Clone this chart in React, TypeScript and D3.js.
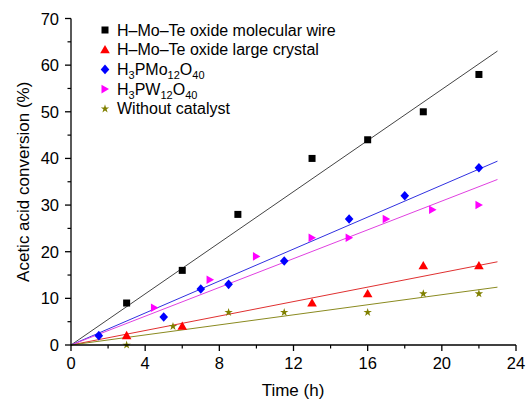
import React from "react";
import * as d3 from "d3";

const W = 527;
const H = 400;

const xTicks = [0, 4, 8, 12, 16, 20, 24];
const yTicks = [0, 10, 20, 30, 40, 50, 60, 70];

const wireX = [3, 6, 9, 13, 16, 19, 22];
const wireY = [9, 16, 28, 40, 44, 50, 58];
const crystalX = [3, 6, 13, 16, 19, 22];
const crystalY = [2, 4, 9, 11, 17, 17];
const pmoX = [1.5, 5, 7, 8.5, 11.5, 15, 18, 22];
const pmoY = [2, 6, 12, 13, 18, 27, 32, 38];
const pwX = [4.5, 7.5, 10, 13, 15, 17, 19.5, 22];
const pwY = [8, 14, 19, 23, 23, 27, 29, 30];
const noneX = [3, 5.5, 8.5, 11.5, 16, 19, 22];
const noneY = [0, 4, 7, 7, 7, 11, 11];

const fitEnd = 23;

type Shape = "square" | "triUp" | "diamond" | "triRight" | "star";

const series: { xs: number[]; ys: number[]; color: string; line: string; shape: Shape; label: React.ReactNode }[] = [
  { xs: wireX, ys: wireY, color: "#000000", line: "#444444", shape: "square", label: "H–Mo–Te oxide molecular wire" },
  { xs: crystalX, ys: crystalY, color: "#ff0000", line: "#e03030", shape: "triUp", label: "H–Mo–Te oxide large crystal" },
  {
    xs: pmoX, ys: pmoY, color: "#0000ff", line: "#3030e0", shape: "diamond",
    label: (
      <>
        H<tspan fontSize={11} dy={4}>3</tspan>
        <tspan dy={-4}>PMo</tspan>
        <tspan fontSize={11} dy={4}>12</tspan>
        <tspan dy={-4}>O</tspan>
        <tspan fontSize={11} dy={4}>40</tspan>
      </>
    ),
  },
  {
    xs: pwX, ys: pwY, color: "#ff00ff", line: "#e040e0", shape: "triRight",
    label: (
      <>
        H<tspan fontSize={11} dy={4}>3</tspan>
        <tspan dy={-4}>PW</tspan>
        <tspan fontSize={11} dy={4}>12</tspan>
        <tspan dy={-4}>O</tspan>
        <tspan fontSize={11} dy={4}>40</tspan>
      </>
    ),
  },
  { xs: noneX, ys: noneY, color: "#808000", line: "#8a8a20", shape: "star", label: "Without catalyst" },
];

function marker(shape: Shape, x: number, y: number, color: string, key: string | number) {
  switch (shape) {
    case "square":
      return <rect key={key} x={x - 3.5} y={y - 3.5} width={7} height={7} fill={color} />;
    case "triUp":
      return <path key={key} d={`M${x},${y - 4.8}L${x + 4.8},${y + 3.5}L${x - 4.8},${y + 3.5}Z`} fill={color} />;
    case "diamond":
      return <path key={key} d={`M${x},${y - 4.8}L${x + 4.3},${y}L${x},${y + 4.8}L${x - 4.3},${y}Z`} fill={color} />;
    case "triRight":
      return <path key={key} d={`M${x - 3.5},${y - 4.3}L${x + 4},${y}L${x - 3.5},${y + 4.3}Z`} fill={color} />;
    case "star":
      return (
        <path
          key={key}
          transform={`translate(${x},${y})`}
          d={d3.symbol(d3.symbolStar, 22)() || ""}
          fill={color}
        />
      );
  }
}

export default function App() {
  const x = d3.scaleLinear().domain([0, 24]).range([71, 516]);
  const y = d3.scaleLinear().domain([0, 70]).range([345, 18.5]);
  const font = "'Liberation Sans', Arial, Helvetica, sans-serif";
  const xMinor = d3.range(2, 24, 4);
  const yMinor = d3.range(5, 70, 10);
  const line = d3.line<[number, number]>().x((d) => x(d[0])).y((d) => y(d[1]));

  return (
    <svg width={W} height={H} style={{ position: "absolute", left: 0, top: 0, background: "#fff" }} fontFamily={font}>
      {series.map((s, i) => {
        const sxy = d3.sum(s.xs.map((v, j) => v * s.ys[j]));
        const sxx = d3.sum(s.xs.map((v) => v * v));
        const k = sxy / sxx;
        return (
          <path key={"fit" + i} d={line([[0, 0], [fitEnd, k * fitEnd]]) || ""} stroke={s.line} strokeWidth={1} fill="none" />
        );
      })}
      {series.map((s, i) => (
        <g key={"pts" + i}>{s.xs.map((v, j) => marker(s.shape, x(v), y(s.ys[j]), s.color, j))}</g>
      ))}
      <line x1={x(0)} x2={x(24)} y1={y(0)} y2={y(0)} stroke="#000" strokeWidth={1.3} />
      <line x1={x(0)} x2={x(0)} y1={y(0)} y2={y(70)} stroke="#000" strokeWidth={1.3} />
      {xTicks.map((t) => (
        <g key={"xt" + t}>
          <line x1={x(t)} x2={x(t)} y1={y(0)} y2={y(0) + 6} stroke="#000" strokeWidth={1.3} />
          <text x={x(t)} y={y(0) + 24} textAnchor="middle" fontSize={16.5}>
            {t}
          </text>
        </g>
      ))}
      {xMinor.map((t) => (
        <line key={"xm" + t} x1={x(t)} x2={x(t)} y1={y(0)} y2={y(0) + 3.5} stroke="#000" strokeWidth={1.2} />
      ))}
      {yTicks.map((t) => (
        <g key={"yt" + t}>
          <line x1={x(0) - 6} x2={x(0)} y1={y(t)} y2={y(t)} stroke="#000" strokeWidth={1.3} />
          <text x={x(0) - 12} y={y(t) + 6} textAnchor="end" fontSize={16.5}>
            {t}
          </text>
        </g>
      ))}
      {yMinor.map((t) => (
        <line key={"ym" + t} x1={x(0) - 3.5} x2={x(0)} y1={y(t)} y2={y(t)} stroke="#000" strokeWidth={1.2} />
      ))}
      <text x={293} y={396} textAnchor="middle" fontSize={17}>
        Time (h)
      </text>
      <text transform={`translate(29,${y(35)}) rotate(-90)`} textAnchor="middle" fontSize={17}>
        Acetic acid conversion (%)
      </text>
      {series.map((s, i) => {
        const ly = 30 + i * 19.7;
        return (
          <g key={"lg" + i}>
            {marker(s.shape, 105, ly, s.color, "m")}
            <text x={117} y={ly + 5.5} fontSize={16}>
              {s.label}
            </text>
          </g>
        );
      })}
    </svg>
  );
}
